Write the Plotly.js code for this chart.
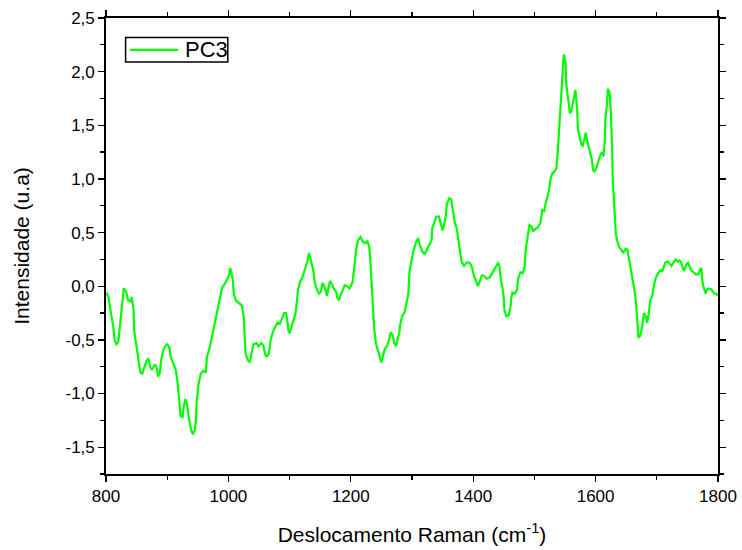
<!DOCTYPE html>
<html>
<head>
<meta charset="utf-8">
<script src="https://cdn.plot.ly/plotly-3.0.1.min.js"></script>
<style>
  html, body { margin: 0; padding: 0; background: #fff; }
  #chart { width: 742px; height: 550px; }
</style>
</head>
<body>
<div id="chart"></div>
<script>
// Raman shift (cm-1) of the PC3 loading spectrum
const ramanShift = [
  801, 804, 808, 812, 814, 817, 820, 823, 825, 829, 833, 836, 840, 842, 845, 846, 850, 853, 856, 859,
  863, 866, 869, 872, 875, 877, 880, 883, 885, 888, 890, 894, 899, 903, 906, 910, 914, 917, 919, 922,
  925, 927, 930, 933, 936, 939, 942, 945, 947, 948, 951, 955, 959, 963, 965, 970, 975, 980, 983, 986,
  990, 994, 997, 1001, 1003, 1005, 1007, 1009, 1013, 1018, 1022, 1025, 1026, 1028, 1032, 1035, 1038, 1041, 1046, 1049,
  1054, 1057, 1060, 1062, 1066, 1069, 1073, 1076, 1080, 1084, 1087, 1091, 1094, 1096, 1098, 1100, 1103, 1109, 1111, 1114,
  1117, 1120, 1123, 1127, 1129, 1132, 1135, 1139, 1141, 1144, 1148, 1151, 1154, 1156, 1159, 1161, 1163, 1166, 1170, 1172,
  1176, 1178, 1181, 1183, 1186, 1190, 1194, 1198, 1203, 1205, 1207, 1209, 1212, 1216, 1219, 1223, 1227, 1230, 1232, 1234,
  1236, 1238, 1241, 1245, 1247, 1250, 1253, 1256, 1259, 1263, 1265, 1268, 1271, 1274, 1276, 1279, 1281, 1284, 1288, 1291,
  1294, 1296, 1299, 1302, 1306, 1310, 1313, 1317, 1321, 1325, 1329, 1332, 1333, 1337, 1340, 1344, 1347, 1350, 1352, 1355,
  1357, 1361, 1364, 1367, 1370, 1373, 1375, 1378, 1381, 1385, 1389, 1394, 1398, 1401, 1405, 1408, 1411, 1414, 1417, 1422,
  1427, 1431, 1435, 1438, 1441, 1443, 1445, 1448, 1450, 1451, 1454, 1458, 1461, 1462, 1464, 1468, 1472, 1473, 1477, 1481,
  1484, 1486, 1489, 1492, 1495, 1498, 1500, 1504, 1507, 1510, 1513, 1516, 1518, 1521, 1524, 1526, 1529, 1533, 1536, 1538,
  1540, 1542, 1544, 1545, 1547, 1548, 1551, 1552, 1555, 1558, 1560, 1563, 1566, 1567, 1570, 1571, 1574, 1577, 1579, 1582,
  1584, 1586, 1589, 1591, 1594, 1596, 1598, 1601, 1604, 1607, 1610, 1613, 1615, 1616, 1619, 1620, 1623, 1625, 1627, 1628,
  1631, 1633, 1635, 1638, 1642, 1645, 1649, 1652, 1655, 1658, 1661, 1664, 1666, 1668, 1670, 1673, 1676, 1679, 1682, 1684,
  1687, 1689, 1693, 1695, 1698, 1702, 1706, 1709, 1712, 1714, 1718, 1721, 1724, 1726, 1731, 1734, 1737, 1740, 1743, 1745,
  1748, 1751, 1754, 1756, 1760, 1764, 1768, 1771, 1773, 1774, 1776, 1780, 1782, 1785, 1789, 1792, 1794, 1797, 1800
];

// PC3 intensity (u.a)
const pc3 = [
  -0.06, -0.10, -0.25, -0.38, -0.50, -0.54, -0.52, -0.38, -0.25, -0.02, -0.05, -0.13, -0.14, -0.10, -0.22, -0.41, -0.56, -0.69, -0.80, -0.82,
  -0.75, -0.70, -0.67, -0.75, -0.78, -0.76, -0.73, -0.76, -0.84, -0.81, -0.69, -0.59, -0.54, -0.56, -0.66, -0.72, -0.78, -0.90, -1.03, -1.21,
  -1.22, -1.12, -1.05, -1.12, -1.25, -1.34, -1.38, -1.34, -1.25, -1.09, -0.92, -0.81, -0.79, -0.80, -0.66, -0.56, -0.42, -0.29, -0.20, -0.13,
  -0.01, 0.02, 0.06, 0.10, 0.17, 0.13, 0.07, -0.08, -0.14, -0.16, -0.18, -0.28, -0.44, -0.63, -0.69, -0.71, -0.62, -0.54, -0.53, -0.56,
  -0.53, -0.55, -0.63, -0.66, -0.63, -0.50, -0.42, -0.38, -0.34, -0.35, -0.30, -0.25, -0.25, -0.31, -0.41, -0.44, -0.38, -0.27, -0.19, -0.03,
  0.04, 0.07, 0.12, 0.18, 0.23, 0.31, 0.23, 0.14, 0.04, -0.02, -0.07, -0.05, 0.03, 0.01, -0.04, -0.09, -0.03, 0.05, 0.01, -0.02,
  -0.05, -0.11, -0.13, -0.08, -0.05, 0.01, 0.00, -0.02, 0.04, 0.16, 0.24, 0.35, 0.43, 0.46, 0.42, 0.40, 0.42, 0.37, 0.24, 0.06,
  -0.19, -0.38, -0.53, -0.61, -0.66, -0.71, -0.64, -0.58, -0.56, -0.49, -0.43, -0.45, -0.53, -0.56, -0.50, -0.44, -0.35, -0.28, -0.24, -0.16,
  -0.07, 0.14, 0.23, 0.32, 0.40, 0.45, 0.38, 0.32, 0.30, 0.35, 0.40, 0.43, 0.54, 0.60, 0.65, 0.65, 0.59, 0.52, 0.56, 0.65,
  0.77, 0.82, 0.81, 0.71, 0.59, 0.54, 0.45, 0.34, 0.23, 0.19, 0.22, 0.22, 0.18, 0.10, 0.04, 0.00, 0.05, 0.10, 0.10, 0.07,
  0.08, 0.12, 0.16, 0.18, 0.22, 0.18, 0.07, -0.02, -0.11, -0.22, -0.28, -0.27, -0.19, -0.12, -0.06, -0.07, -0.03, 0.06, 0.13, 0.12,
  0.18, 0.35, 0.46, 0.57, 0.56, 0.51, 0.53, 0.54, 0.56, 0.60, 0.71, 0.70, 0.76, 0.83, 0.90, 0.99, 1.05, 1.07, 1.10, 1.24,
  1.43, 1.67, 1.83, 1.98, 2.09, 2.16, 2.08, 1.89, 1.75, 1.61, 1.63, 1.72, 1.78, 1.83, 1.64, 1.47, 1.39, 1.32, 1.31, 1.39,
  1.43, 1.36, 1.29, 1.25, 1.18, 1.08, 1.07, 1.10, 1.16, 1.21, 1.25, 1.21, 1.36, 1.55, 1.72, 1.84, 1.80, 1.61, 1.30, 0.99,
  0.70, 0.49, 0.43, 0.37, 0.34, 0.31, 0.35, 0.34, 0.24, 0.15, 0.03, -0.05, -0.15, -0.31, -0.48, -0.46, -0.38, -0.25, -0.28, -0.34,
  -0.25, -0.14, -0.08, 0.00, 0.07, 0.12, 0.15, 0.14, 0.18, 0.22, 0.23, 0.21, 0.19, 0.21, 0.25, 0.23, 0.24, 0.22, 0.16, 0.15,
  0.20, 0.22, 0.18, 0.15, 0.13, 0.11, 0.11, 0.16, 0.17, 0.07, 0.00, -0.07, -0.03, -0.02, -0.03, -0.06, -0.07, -0.07, -0.09
];

const xTickVals = [800, 1000, 1200, 1400, 1600, 1800];
const yTickVals = [-1.5, -1.0, -0.5, 0.0, 0.5, 1.0, 1.5, 2.0, 2.5];
const yTickText = ['-1,5', '-1,0', '-0,5', '0,0', '0,5', '1,0', '1,5', '2,0', '2,5'];

const FONT = '"Liberation Sans", Arial, Helvetica, sans-serif';
const LINE_COLOR = '#00ff00';
const SERIES_NAME = 'PC3';

const trace = {
  x: ramanShift,
  y: pc3,
  type: 'scatter',
  mode: 'lines',
  name: SERIES_NAME,
  line: { color: LINE_COLOR, width: 2.2 }
};

const axisCommon = {
  showline: true,
  linecolor: '#000',
  linewidth: 1.8,
  mirror: 'ticks',
  ticks: 'outside',
  ticklen: 6,
  tickwidth: 1.3,
  tickcolor: '#000',
  showgrid: false,
  zeroline: false,
  tickfont: { family: FONT, size: 17, color: '#000' }
};

// Compact boxed legend in the upper-left corner of the plot area
const legendBox = { x0: 0.032, x1: 0.199, y0: 0.9035, y1: 0.957 };
const legendMidY = (legendBox.y0 + legendBox.y1) / 2;

const layout = {
  width: 742,
  height: 550,
  paper_bgcolor: '#fff',
  plot_bgcolor: '#fff',
  margin: { l: 106, r: 24, t: 18, b: 76 },
  showlegend: false,
  xaxis: Object.assign({}, axisCommon, {
    range: [800, 1800],
    tickvals: xTickVals,
    ticktext: xTickVals.map(String),
    minor: { tickvals: [900, 1100, 1300, 1500, 1700], ticks: 'outside', ticklen: 4, tickcolor: '#000' },
    title: { text: 'Deslocamento Raman (cm<sup>-1</sup>)', font: { family: FONT, size: 21, color: '#000' }, standoff: 22 }
  }),
  yaxis: Object.assign({}, axisCommon, {
    range: [-1.75, 2.5],
    tickvals: yTickVals,
    ticktext: yTickText,
    minor: { dtick: 0.25, tick0: 0, ticks: 'outside', ticklen: 4, tickcolor: '#000' },
    title: { text: 'Intensidade (u.a)', font: { family: FONT, size: 21, color: '#000' }, standoff: 30 }
  }),
  shapes: [
    {
      type: 'rect', xref: 'paper', yref: 'paper',
      x0: legendBox.x0, x1: legendBox.x1, y0: legendBox.y0, y1: legendBox.y1,
      line: { color: '#000', width: 1.5 }, fillcolor: '#fff'
    },
    {
      type: 'line', xref: 'paper', yref: 'paper',
      x0: 0.039, x1: 0.118, y0: legendMidY, y1: legendMidY,
      line: { color: LINE_COLOR, width: 2.2 }
    }
  ],
  annotations: [
    {
      xref: 'paper', yref: 'paper', x: 0.125, y: legendMidY,
      xanchor: 'left', yanchor: 'middle', showarrow: false,
      text: SERIES_NAME,
      font: { family: FONT, size: 22, color: '#000' }
    }
  ]
};

Plotly.newPlot('chart', [trace], layout, { staticPlot: true, displayModeBar: false });
</script>
</body>
</html>
